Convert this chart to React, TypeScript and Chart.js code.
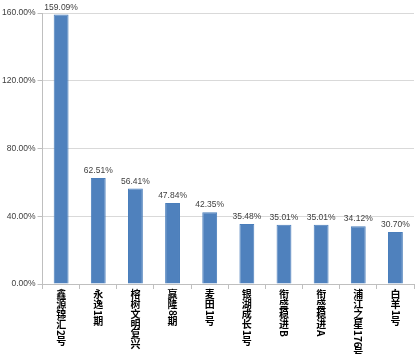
import React, { useEffect, useRef } from "react";
import { Chart, registerables } from "chart.js";

Chart.register(...registerables);

const categories = ["鑫源锦汇2号", "永逸1期", "榕树文明复兴", "赢隆8期", "麦田1号", "银湖成长1号", "衔盛稳进B", "衔盛稳进A", "浦江之星176号", "白羊1号"];
const values = [159.09, 62.51, 56.41, 47.84, 42.35, 35.48, 35.01, 35.01, 34.12, 30.7];
const yTicks = [0, 40, 80, 120, 160];

const labelFont = "bold 10px 'Noto Sans CJK SC', sans-serif";
const numFont = "8.5px 'Liberation Sans', Arial, sans-serif";

function drawVertical(ctx: any, lab: string, x: number, top: number, size: number) {
  let y = top;
  const runs = lab.match(/[A-Za-z0-9]+|./g) || [];
  runs.forEach((r: string) => {
    if (/^[A-Za-z0-9]+$/.test(r)) {
      const w = ctx.measureText(r).width;
      ctx.save();
      ctx.translate(x, y);
      ctx.rotate(Math.PI / 2);
      ctx.textAlign = "left";
      ctx.textBaseline = "middle";
      ctx.fillText(r, 0, 0);
      ctx.restore();
      y += w + size * 0.1;
    } else {
      ctx.textAlign = "center";
      ctx.textBaseline = "top";
      ctx.fillText(r, x, y - size * 0.1);
      y += size;
    }
  });
}

const verticalLabels = {
  id: "verticalLabels",
  afterDraw(chart: any) {
    const ctx = chart.ctx;
    const xs = chart.scales.x;
    const top = chart.chartArea.bottom + 6;
    ctx.save();
    ctx.font = labelFont;
    ctx.fillStyle = "#000000";
    categories.forEach((lab, i) => {
      drawVertical(ctx, lab, xs.getPixelForValue(i), top, 10);
    });
    ctx.restore();
  },
};

const dataLabels = {
  id: "dataLabels",
  afterDatasetsDraw(chart: any) {
    const ctx = chart.ctx;
    const meta = chart.getDatasetMeta(0);
    ctx.save();
    ctx.font = numFont;
    ctx.fillStyle = "#404040";
    ctx.textAlign = "center";
    ctx.textBaseline = "bottom";
    meta.data.forEach((bar: any, i: number) => {
      ctx.fillText(values[i].toFixed(2) + "%", bar.x, bar.y - 3);
    });
    ctx.restore();
  },
};

export default function App() {
  const ref = useRef<HTMLCanvasElement>(null);
  useEffect(() => {
    document.body.style.margin = "0";
    const chart = new Chart(ref.current!, {
      type: "bar",
      data: {
        labels: categories,
        datasets: [
          {
            data: values,
            backgroundColor: "#4F81BD",
            borderColor: "#4A7EBB",
            borderWidth: 1,
            barPercentage: 0.4,
            categoryPercentage: 1,
          },
        ],
      },
      options: {
        responsive: false,
        animation: false,
        layout: { padding: { top: 13, right: 2, bottom: 65, left: 0 } },
        plugins: { legend: { display: false }, tooltip: { enabled: false } },
        scales: {
          x: {
            grid: { display: true, drawOnChartArea: false, drawTicks: true, tickLength: 5, color: "#BFBFBF", offset: true },
            border: { color: "#BFBFBF" },
            ticks: { display: false },
          },
          y: {
            min: 0,
            max: 160,
            afterBuildTicks: (s: any) => {
              s.ticks = yTicks.map((v) => ({ value: v }));
            },
            grid: { color: "#D9D9D9", tickLength: 5, drawTicks: true, tickColor: "#BFBFBF" },
            border: { color: "#BFBFBF" },
            ticks: {
              font: { size: 8.5, family: "'Liberation Sans', Arial, sans-serif" },
              color: "#404040",
              padding: 2,
              callback: (v: any) => Number(v).toFixed(2) + "%",
            },
          },
        },
      },
      plugins: [verticalLabels, dataLabels],
    });
    return () => chart.destroy();
  }, []);
  return <canvas ref={ref} width={416} height={354} style={{ display: "block" }} />;
}
